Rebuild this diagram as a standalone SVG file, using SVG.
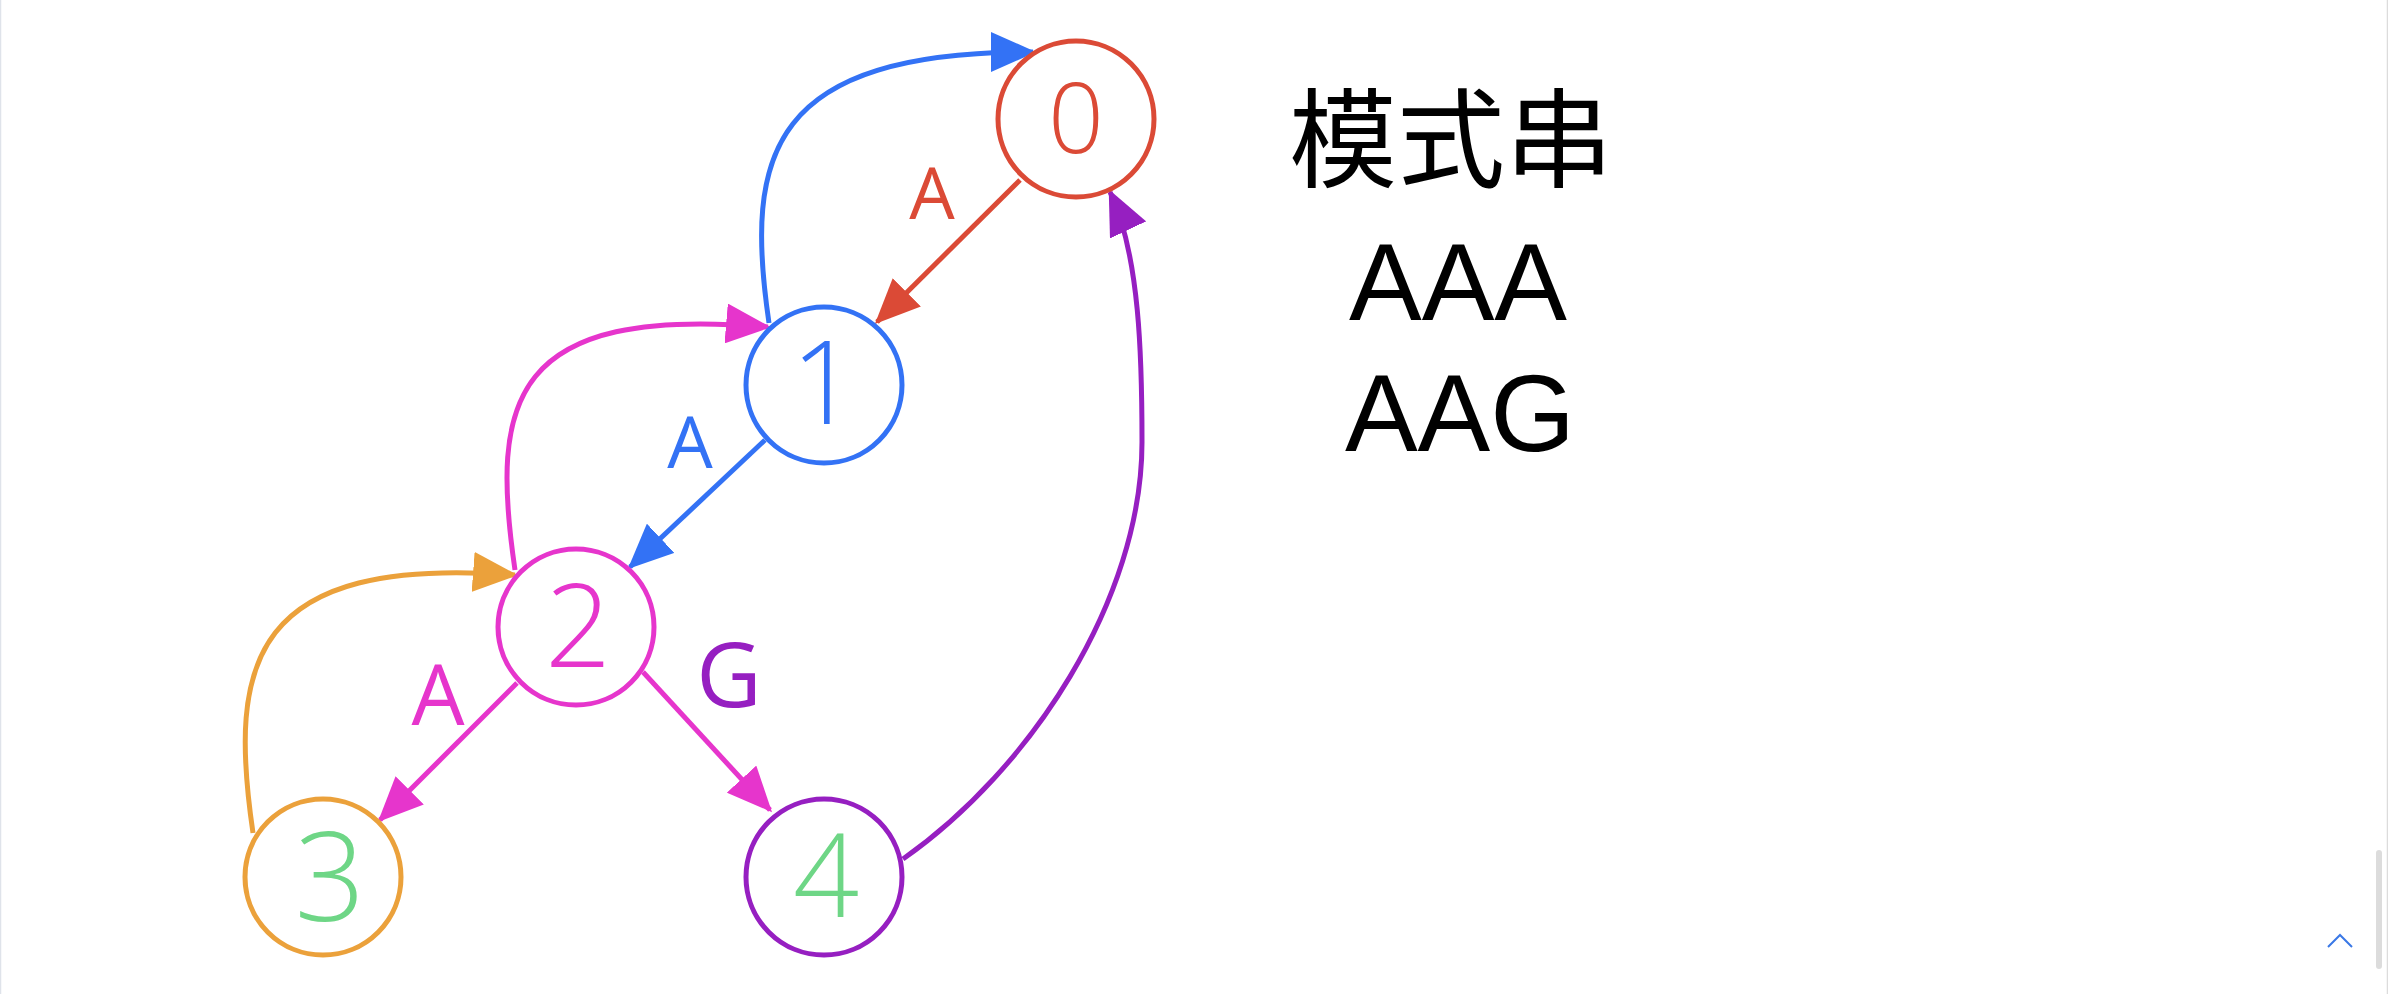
<svg xmlns="http://www.w3.org/2000/svg" width="2388" height="994" viewBox="0 0 2388 994">
<style>
.node{fill:#ffffff;stroke-width:5}
.edge{fill:none;stroke-width:5}
.digit{font-family:"Open Sans","Liberation Sans",sans-serif;font-weight:300;font-size:116px;text-anchor:middle}
.lbl{font-family:"Open Sans","Liberation Sans",sans-serif;font-weight:400;font-size:72px;text-anchor:middle}
.side{font-family:"Liberation Sans","Noto Sans CJK SC",sans-serif;fill:#000000;text-anchor:middle}
</style>
<defs>
<marker id="ah-red" viewBox="0 0 45 40" markerUnits="userSpaceOnUse" markerWidth="45" markerHeight="40" refX="42" refY="20" orient="auto"><path d="M0,0 L45,20 L0,40 z" fill="#db4a36"/></marker>
<marker id="ah-blue" viewBox="0 0 45 40" markerUnits="userSpaceOnUse" markerWidth="45" markerHeight="40" refX="42" refY="20" orient="auto"><path d="M0,0 L45,20 L0,40 z" fill="#3372f5"/></marker>
<marker id="ah-mag" viewBox="0 0 45 40" markerUnits="userSpaceOnUse" markerWidth="45" markerHeight="40" refX="42" refY="20" orient="auto"><path d="M0,0 L45,20 L0,40 z" fill="#e635cc"/></marker>
<marker id="ah-orange" viewBox="0 0 45 40" markerUnits="userSpaceOnUse" markerWidth="45" markerHeight="40" refX="42" refY="20" orient="auto"><path d="M0,0 L45,20 L0,40 z" fill="#eba13b"/></marker>
<marker id="ah-purple" viewBox="0 0 45 40" markerUnits="userSpaceOnUse" markerWidth="45" markerHeight="40" refX="42" refY="20" orient="auto"><path d="M0,0 L45,20 L0,40 z" fill="#961fc1"/></marker>
</defs>
<rect x="0" y="0" width="2388" height="994" fill="#ffffff"/>
<line x1="0.5" y1="0" x2="0.5" y2="994" stroke="#dfe3ea" stroke-width="1.5"/>
<line x1="2387.5" y1="0" x2="2387.5" y2="994" stroke="#dcdcdc" stroke-width="1.5"/>

<g id="connectors">
  <path class="edge" stroke="#db4a36" d="M1020 180 L877 322" marker-end="url(#ah-red)"/>
  <path class="edge" stroke="#3372f5" d="M769 323 C744 153 770 52 1033 52" marker-end="url(#ah-blue)"/>
  <path class="edge" stroke="#3372f5" d="M765 440 L630 567" marker-end="url(#ah-blue)"/>
  <path class="edge" stroke="#e635cc" d="M515 570 C490 400 510 305 768 327" marker-end="url(#ah-mag)"/>
  <path class="edge" stroke="#e635cc" d="M517 683 L380 820" marker-end="url(#ah-mag)"/>
  <path class="edge" stroke="#e635cc" d="M643 672 L770 810" marker-end="url(#ah-mag)"/>
  <path class="edge" stroke="#eba13b" d="M253 833 C228 663 250 555 515 575" marker-end="url(#ah-orange)"/>
  <path class="edge" stroke="#961fc1" d="M903 859 C1030 770 1142 600 1142 442 C1142 360 1140 255 1110 192" marker-end="url(#ah-purple)"/>
  <text class="lbl" x="932" y="219" fill="#db4a36">A</text>
  <text class="lbl" x="690" y="468" fill="#3372f5">A</text>
  <text class="lbl" x="438" y="725" fill="#e635cc" style="font-size:84px">A</text>
  <text class="lbl" x="729" y="707" fill="#961fc1" style="font-size:90px">G</text>
</g>

<g id="node-0">
  <circle class="node" cx="1076" cy="119" r="78" stroke="#db4a36"/>
  <text class="digit" x="1076" y="153" fill="#db4a36" style="font-size:98px">0</text>
</g>
<g id="node-1">
  <circle class="node" cx="824" cy="385" r="78" stroke="#3372f5"/>
  <text class="digit" x="824" y="424" fill="#3372f5">1</text>
</g>
<g id="node-2">
  <circle class="node" cx="576" cy="627" r="78" stroke="#e635cc"/>
  <text class="digit" x="578" y="667" fill="#e635cc">2</text>
</g>
<g id="node-3">
  <circle class="node" cx="323" cy="877" r="78" stroke="#eba13b"/>
  <text class="digit" x="330" y="921" fill="#6ed686" style="font-size:124px">3</text>
</g>
<g id="node-4">
  <circle class="node" cx="824" cy="877" r="78" stroke="#961fc1"/>
  <text class="digit" x="826" y="917" fill="#6ed686">4</text>
</g>

<g id="pattern-text">
  <text class="side" x="1451" y="179" style="font-size:108px">模式串</text>
  <text class="side" x="1458" y="320" style="font-size:109px">AAA</text>
  <text class="side" x="1460" y="451" style="font-size:109px">AAG</text>
</g>

<g id="scroll-ui">
  <rect x="2376" y="850" width="6" height="119" rx="3" fill="#dcdcdc"/>
  <polyline points="2328,947 2340,935 2352,947" fill="none" stroke="#3a78e6" stroke-width="2"/>
</g>
</svg>
